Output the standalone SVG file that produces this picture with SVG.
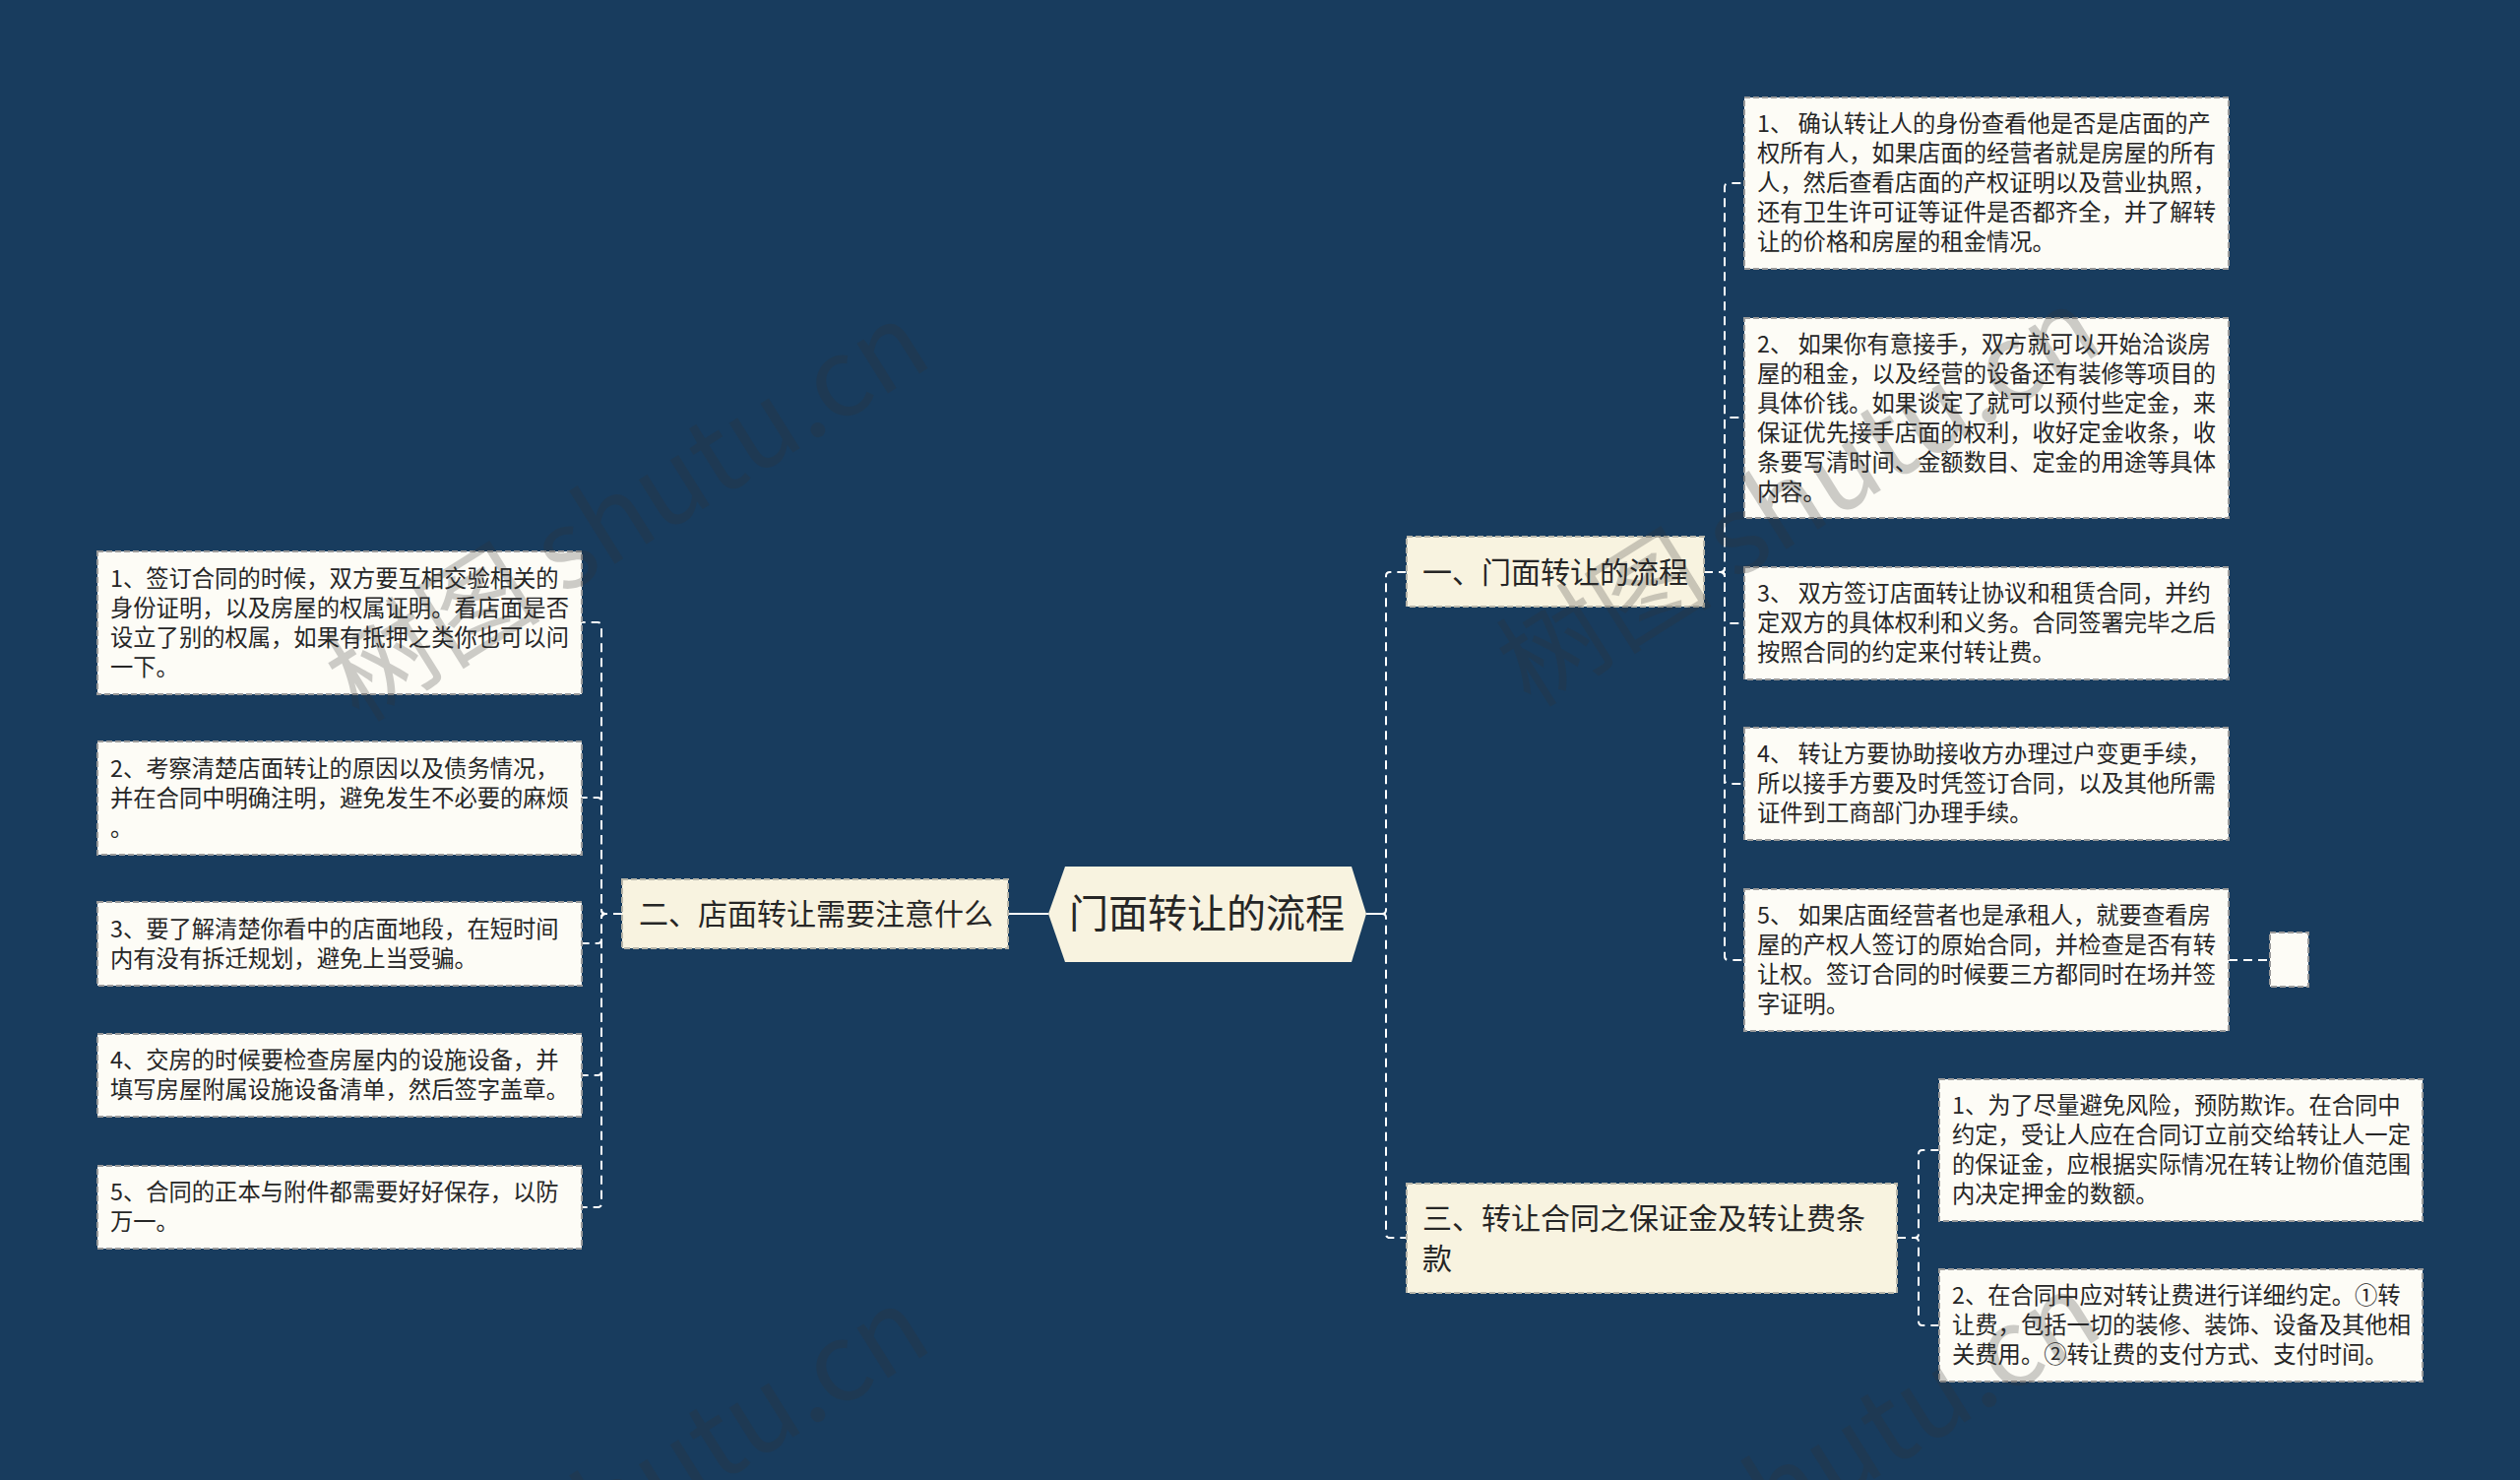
<svg xmlns="http://www.w3.org/2000/svg" width="2560" height="1503" viewBox="0 0 2560 1503">
<style>
.bg{fill:#183c5e}
.conn{fill:none;stroke:#ffffff;stroke-width:2;stroke-dasharray:9 6}
.solid{fill:none;stroke:#ffffff;stroke-width:2}
.leaf{fill:#fdfcf6;stroke:#9a9a9a;stroke-width:2;stroke-dasharray:6 3}
.branch{fill:#f8f3e0;stroke:#b8b6aa;stroke-width:2;stroke-dasharray:6 3}
.root{fill:#f8f3e0}
.t{font-family:"Noto Sans CJK SC","Noto Sans",sans-serif;fill:#262626}
.ts{font-size:23.3px}
.tb{font-size:30px}
.tr{font-size:40px}
.wm{font-family:"Noto Sans CJK SC","Noto Sans",sans-serif;font-size:110px;fill:#333333;opacity:0.24}
</style>
<rect class="bg" x="0" y="0" width="2560" height="1503"/>

<g id="connectors">
  <line class="solid" x1="1024" y1="928" x2="1065" y2="928"/>
  <line class="solid" x1="1388" y1="928" x2="1406" y2="928"/>
  <path class="conn" d="M632 928 H615 Q611 928 611 924 V636 Q611 632 607 632 H591"/>
  <path class="conn" d="M632 928 H615 Q611 928 611 924 V814 Q611 810 607 810 H591"/>
  <path class="conn" d="M632 928 H615 Q611 928 611 932 V954 Q611 958 607 958 H591"/>
  <path class="conn" d="M632 928 H615 Q611 928 611 932 V1088 Q611 1092 607 1092 H591"/>
  <path class="conn" d="M632 928 H615 Q611 928 611 932 V1222 Q611 1226 607 1226 H591"/>
  <path class="conn" d="M1388 928 H1404 Q1408 928 1408 924 V585 Q1408 581 1412 581 H1429"/>
  <path class="conn" d="M1388 928 H1404 Q1408 928 1408 932 V1253 Q1408 1257 1412 1257 H1429"/>
  <path class="conn" d="M1731 581 H1748 Q1752 581 1752 577 V190 Q1752 186 1756 186 H1772"/>
  <path class="conn" d="M1731 581 H1748 Q1752 581 1752 577 V428 Q1752 424 1756 424 H1772"/>
  <path class="conn" d="M1731 581 H1748 Q1752 581 1752 585 V629 Q1752 633 1756 633 H1772"/>
  <path class="conn" d="M1731 581 H1748 Q1752 581 1752 585 V792 Q1752 796 1756 796 H1772"/>
  <path class="conn" d="M1731 581 H1748 Q1752 581 1752 585 V971 Q1752 975 1756 975 H1772"/>
  <path class="conn" d="M2264 975 H2306"/>
  <path class="conn" d="M1927 1257 H1945 Q1949 1257 1949 1253 V1172 Q1949 1168 1953 1168 H1970"/>
  <path class="conn" d="M1927 1257 H1945 Q1949 1257 1949 1261 V1342 Q1949 1346 1953 1346 H1970"/>
</g>

<g id="root">
  <polygon class="root" points="1065,928 1082,880 1373,880 1388,928 1373,977 1082,977"/>
  <text class="t tr" x="1226" y="942" text-anchor="middle">门面转让的流程</text>
</g>

<g id="branch-2">
  <rect class="branch" x="632" y="893" width="392" height="70"/>
  <text class="t tb" x="649" y="939">二、店面转让需要注意什么</text>
</g>

<g id="branch-1">
  <rect class="branch" x="1429" y="545" width="302" height="71"/>
  <text class="t tb" x="1445" y="592">一、门面转让的流程</text>
</g>

<g id="branch-3">
  <rect class="branch" x="1429" y="1202" width="498" height="111"/>
  <text class="t tb" x="1445" y="1248">三、转让合同之保证金及转让费条</text>
  <text class="t tb" x="1445" y="1289">款</text>
</g>

<g id="leaf-l1">
  <rect class="leaf" x="99" y="560" width="492" height="145"/>
  <text class="t ts" x="112" y="596">1、签订合同的时候，双方要互相交验相关的</text>
  <text class="t ts" x="112" y="626">身份证明，以及房屋的权属证明。看店面是否</text>
  <text class="t ts" x="112" y="656">设立了别的权属，如果有抵押之类你也可以问</text>
  <text class="t ts" x="112" y="686">一下。</text>
</g>
<g id="leaf-l2">
  <rect class="leaf" x="99" y="753" width="492" height="115"/>
  <text class="t ts" x="112" y="789">2、考察清楚店面转让的原因以及债务情况，</text>
  <text class="t ts" x="112" y="819">并在合同中明确注明，避免发生不必要的麻烦</text>
  <text class="t ts" x="112" y="849">。</text>
</g>
<g id="leaf-l3">
  <rect class="leaf" x="99" y="916" width="492" height="85"/>
  <text class="t ts" x="112" y="952">3、要了解清楚你看中的店面地段，在短时间</text>
  <text class="t ts" x="112" y="982">内有没有拆迁规划，避免上当受骗。</text>
</g>
<g id="leaf-l4">
  <rect class="leaf" x="99" y="1050" width="492" height="84"/>
  <text class="t ts" x="112" y="1085">4、交房的时候要检查房屋内的设施设备，并</text>
  <text class="t ts" x="112" y="1115">填写房屋附属设施设备清单，然后签字盖章。</text>
</g>
<g id="leaf-l5">
  <rect class="leaf" x="99" y="1184" width="492" height="84"/>
  <text class="t ts" x="112" y="1219">5、合同的正本与附件都需要好好保存，以防</text>
  <text class="t ts" x="112" y="1249">万一。</text>
</g>

<g id="leaf-r1">
  <rect class="leaf" x="1772" y="99" width="492" height="174"/>
  <text class="t ts" x="1785" y="134">1、 确认转让人的身份查看他是否是店面的产</text>
  <text class="t ts" x="1785" y="164">权所有人，如果店面的经营者就是房屋的所有</text>
  <text class="t ts" x="1785" y="194">人，然后查看店面的产权证明以及营业执照，</text>
  <text class="t ts" x="1785" y="224">还有卫生许可证等证件是否都齐全，并了解转</text>
  <text class="t ts" x="1785" y="254">让的价格和房屋的租金情况。</text>
</g>
<g id="leaf-r2">
  <rect class="leaf" x="1772" y="323" width="492" height="203"/>
  <text class="t ts" x="1785" y="358">2、 如果你有意接手，双方就可以开始洽谈房</text>
  <text class="t ts" x="1785" y="388">屋的租金，以及经营的设备还有装修等项目的</text>
  <text class="t ts" x="1785" y="418">具体价钱。如果谈定了就可以预付些定金，来</text>
  <text class="t ts" x="1785" y="448">保证优先接手店面的权利，收好定金收条，收</text>
  <text class="t ts" x="1785" y="478">条要写清时间、金额数目、定金的用途等具体</text>
  <text class="t ts" x="1785" y="508">内容。</text>
</g>
<g id="leaf-r3">
  <rect class="leaf" x="1772" y="576" width="492" height="114"/>
  <text class="t ts" x="1785" y="611">3、 双方签订店面转让协议和租赁合同，并约</text>
  <text class="t ts" x="1785" y="641">定双方的具体权利和义务。合同签署完毕之后</text>
  <text class="t ts" x="1785" y="671">按照合同的约定来付转让费。</text>
</g>
<g id="leaf-r4">
  <rect class="leaf" x="1772" y="739" width="492" height="114"/>
  <text class="t ts" x="1785" y="774">4、 转让方要协助接收方办理过户变更手续，</text>
  <text class="t ts" x="1785" y="804">所以接手方要及时凭签订合同，以及其他所需</text>
  <text class="t ts" x="1785" y="834">证件到工商部门办理手续。</text>
</g>
<g id="leaf-r5">
  <rect class="leaf" x="1772" y="903" width="492" height="144"/>
  <text class="t ts" x="1785" y="938">5、 如果店面经营者也是承租人，就要查看房</text>
  <text class="t ts" x="1785" y="968">屋的产权人签订的原始合同，并检查是否有转</text>
  <text class="t ts" x="1785" y="998">让权。签订合同的时候要三方都同时在场并签</text>
  <text class="t ts" x="1785" y="1028">字证明。</text>
</g>
<g id="leaf-r5-empty">
  <rect class="leaf" x="2306" y="947" width="39" height="55"/>
</g>

<g id="leaf-s1">
  <rect class="leaf" x="1970" y="1096" width="491" height="144"/>
  <text class="t ts" x="1983" y="1131">1、为了尽量避免风险，预防欺诈。在合同中</text>
  <text class="t ts" x="1983" y="1161">约定，受让人应在合同订立前交给转让人一定</text>
  <text class="t ts" x="1983" y="1191">的保证金，应根据实际情况在转让物价值范围</text>
  <text class="t ts" x="1983" y="1221">内决定押金的数额。</text>
</g>
<g id="leaf-s2">
  <rect class="leaf" x="1970" y="1289" width="491" height="114"/>
  <text class="t ts" x="1983" y="1324">2、在合同中应对转让费进行详细约定。①转</text>
  <text class="t ts" x="1983" y="1354">让费，包括一切的装修、装饰、设备及其他相</text>
  <text class="t ts" x="1983" y="1384">关费用。②转让费的支付方式、支付时间。</text>
</g>

<g id="watermarks">
  <text class="wm" x="365" y="735" transform="rotate(-32 365 735)">树图 shutu.cn</text>
  <text class="wm" x="1555" y="720" transform="rotate(-32 1555 720)">树图 shutu.cn</text>
  <text class="wm" x="365" y="1735" transform="rotate(-32 365 1735)">树图 shutu.cn</text>
  <text class="wm" x="1555" y="1720" transform="rotate(-32 1555 1720)">树图 shutu.cn</text>
</g>
</svg>
